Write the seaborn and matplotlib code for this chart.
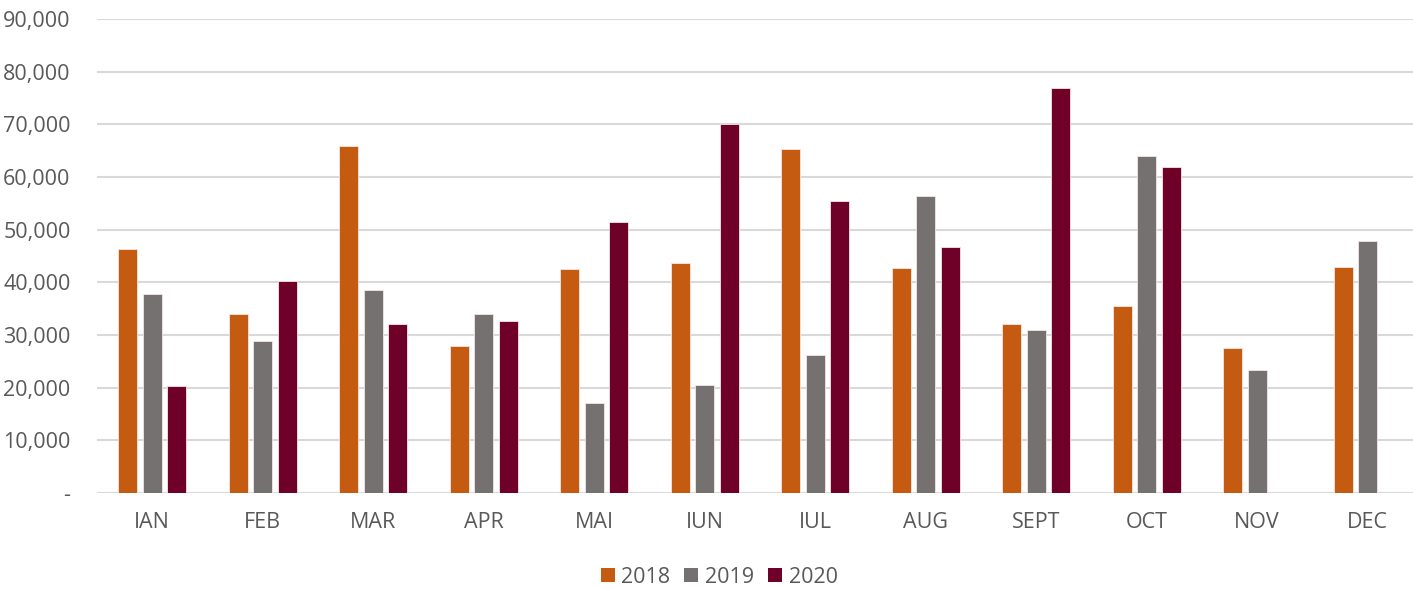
import pandas as pd
import matplotlib.pyplot as plt
import matplotlib.ticker as mticker
from matplotlib.patches import Patch
import seaborn as sns

# monthly values
months = ['IAN', 'FEB', 'MAR', 'APR', 'MAI', 'IUN', 'IUL', 'AUG', 'SEPT', 'OCT', 'NOV', 'DEC']
years = ['2018', '2019', '2020']
vals_2018 = [46400, 33900, 65900, 27900, 42600, 43600, 65400, 42800, 32100, 35600, 27500, 42900]
vals_2019 = [37800, 28900, 38600, 34000, 17100, 20600, 26200, 56400, 31000, 63900, 23300, 47900]
vals_2020 = [20300, 40200, 32100, 32600, 51400, 70100, 55500, 46800, 76900, 61900, None, None]
colors = ['#C55A11', '#767171', '#6F0027']

# long-form table for seaborn
df = pd.DataFrame({
    'month': months * 3,
    'year': [y for y in years for _ in months],
    'value': vals_2018 + vals_2019 + vals_2020,
})

sns.set_style("white")
plt.rcParams['font.family'] = ['Open Sans', 'DejaVu Sans']

fig = plt.figure(figsize=(14.13, 5.89), dpi=100)
ax = fig.add_axes([97 / 1413, 96 / 589, 1326 / 1413, 474 / 589])

sns.barplot(data=df, x='month', y='value', hue='year', order=months, hue_order=years,
            palette=colors, width=0.665, gap=0.22, saturation=1, errorbar=None,
            linewidth=0.6, edgecolor='#F2E6E6', ax=ax, zorder=3)

ax.set_xlim(-0.5, 11.5)
ax.set_ylim(0, 90000)
ax.yaxis.set_major_locator(mticker.MultipleLocator(10000))
ax.yaxis.set_major_formatter(mticker.FuncFormatter(lambda v, p: '-' if v == 0 else f'{v:,.0f}'))
ax.grid(axis='y', color='#D9D9D9', linewidth=1.5, zorder=0)
ax.set_axisbelow(True)
for s in ax.spines.values():
    s.set_visible(False)
ax.tick_params(axis='y', length=0, pad=19, labelsize=15.5, labelcolor='#595959')
ax.tick_params(axis='x', length=0, pad=14, labelsize=15.5, labelcolor='#595959')
ax.set_xlabel('')
ax.set_ylabel('')

ax.get_legend().remove()
handles = [Patch(facecolor=c, edgecolor='none') for c in colors]
fig.legend(handles, years, loc='center', bbox_to_anchor=(0.509, 0.02), ncol=3, frameon=False,
           fontsize=15.5, labelcolor='#595959', handlelength=0.65, handleheight=0.65,
           handletextpad=0.3, columnspacing=0.65)

fig.savefig('out.png', dpi=100)
